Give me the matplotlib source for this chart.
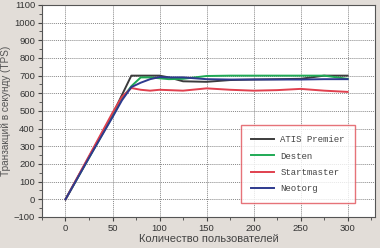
import matplotlib
matplotlib.use("Agg")
import matplotlib.pyplot as plt
from matplotlib.ticker import MultipleLocator

users = [0, 25, 50, 60, 70, 80, 90, 100, 110, 125, 150, 175, 200, 225, 250, 275, 300]
atis = [0, 240, 480, 590, 700, 700, 700, 700, 690, 668, 665, 675, 678, 680, 682, 700, 700]
desten = [0, 235, 470, 570, 640, 690, 690, 685, 680, 682, 698, 700, 700, 700, 700, 700, 682]
startmaster = [0, 245, 490, 580, 630, 620, 615, 620, 618, 615, 628, 620, 615, 618, 625, 615, 608]
neotorg = [0, 235, 465, 560, 635, 660, 680, 692, 690, 690, 680, 678, 678, 678, 678, 680, 680]

series = [
    ("ATIS Premier", atis, "#3c3c3c"),
    ("Desten", desten, "#1faa55"),
    ("Startmaster", startmaster, "#e0404e"),
    ("Neotorg", neotorg, "#2e3a8e"),
]

plt.rcParams['font.family'] = ['Liberation Sans', 'DejaVu Sans']
fig = plt.figure(figsize=(3.8, 2.48), dpi=100)
fig.patch.set_facecolor("#e2ddd8")
ax = fig.add_axes([0.1105, 0.125, 0.876, 0.855])
ax.set_facecolor("white")

for name, vals, col in series:
    ax.plot(users, vals, color=col, lw=1.4, label=name)

ax.set_xlim(-25, 329)
ax.set_ylim(-100, 1100)
ax.xaxis.set_major_locator(MultipleLocator(50))
ax.xaxis.set_minor_locator(MultipleLocator(25))
ax.yaxis.set_major_locator(MultipleLocator(100))
ax.yaxis.set_minor_locator(MultipleLocator(50))
ax.grid(True, which="major", color="#888888", linestyle=(0, (1, 1)), lw=0.7)
ax.tick_params(which="both", direction="out", colors="#444444", labelsize=6.8, labelcolor="#333333")
ax.tick_params(which="major", length=3, pad=2)
ax.tick_params(which="minor", length=2)
for s in ax.spines.values():
    s.set_color("#555555")
    s.set_linewidth(0.8)

ax.set_xlabel("Количество пользователей", fontsize=8, color="#444444", labelpad=1)
ax.set_ylabel("Транзакций в секунду (TPS)", fontsize=7.2, color="#555555")
ax.yaxis.set_label_coords(-0.093, 0.5)

leg = ax.legend(loc="lower right", bbox_to_anchor=(0.94, 0.066), frameon=True, fancybox=False,
                borderaxespad=0,
                prop={"family": "Liberation Mono", "size": 6.5}, handlelength=2.6,
                borderpad=1.1, labelspacing=0.8, handletextpad=0.7)
leg.get_frame().set_edgecolor("#e05058")
leg.get_frame().set_linewidth(1.0)
for t in leg.get_texts():
    t.set_color("#444444")

fig.savefig("out.png", dpi=100, facecolor=fig.get_facecolor())
